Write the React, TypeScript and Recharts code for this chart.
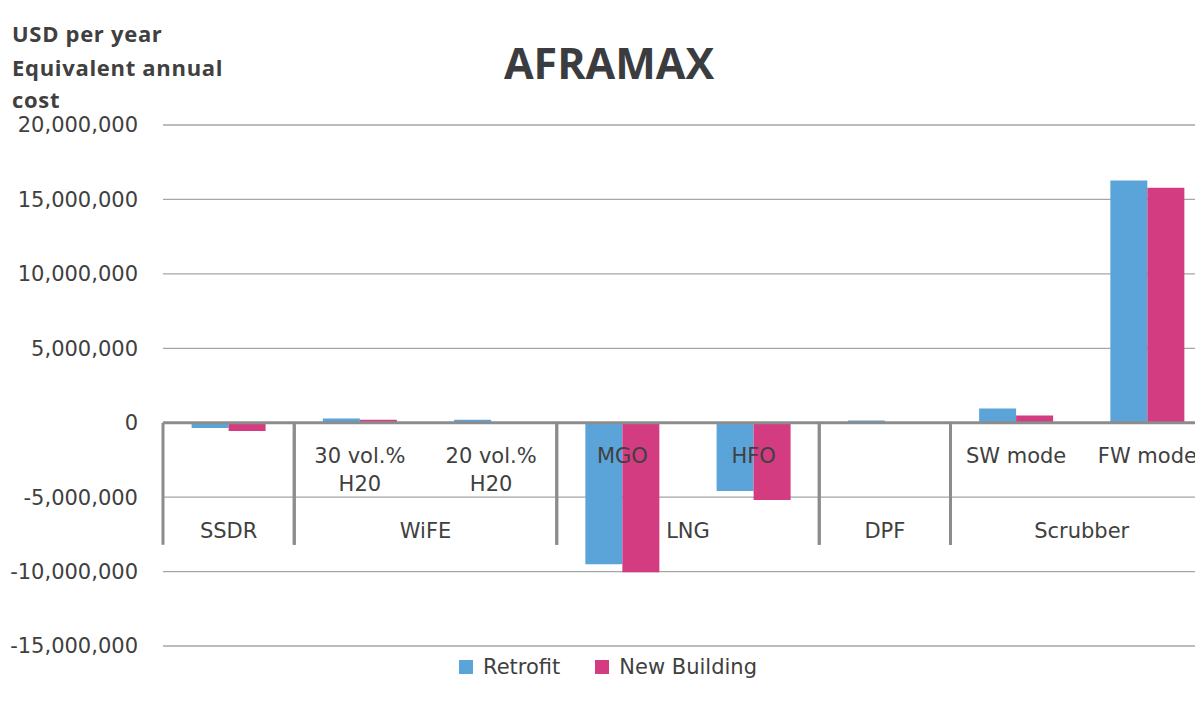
import { BarChart, Bar, XAxis, YAxis, CartesianGrid, ReferenceLine, ReferenceArea, Legend } from 'recharts';

// one entry per bar pair, left to right
const innerLabels = ['', '30 vol.%\nH20', '20 vol.%\nH20', 'MGO', 'HFO', '', 'SW mode', 'FW mode'];
const groupLabels = ['SSDR', 'WiFE', 'WiFE', 'LNG', 'LNG', 'DPF', 'Scrubber', 'Scrubber'];
const retrofit = [-350000, 280000, 200000, -9500000, -4580000, 150000, 950000, 16270000];
const newBuilding = [-550000, 200000, 40000, -10050000, -5200000, 30000, 480000, 15780000];
const yTicks = [-15000000, -10000000, -5000000, 0, 5000000, 10000000, 15000000, 20000000];
const seriesNames = ['Retrofit', 'New Building'];

const BLUE = '#5BA4DA';
const PINK = '#D43C81';
const seriesColors = [BLUE, PINK];
const TEXT = '#404040';
const AXIS = '#8c8c8c';
const FONT = '"DejaVu Sans", sans-serif';

const keys = innerLabels.map((inner, i) => `${groupLabels[i]}|${inner}`);

const chartData = keys.map((key, i) => ({
  key,
  retrofit: retrofit[i],
  newBuilding: newBuilding[i],
}));

// consecutive runs of the same group label
const groups: { name: string; from: string; to: string }[] = [];
groupLabels.forEach((g, i) => {
  const last = groups[groups.length - 1];
  if (last && last.name === g) last.to = keys[i];
  else groups.push({ name: g, from: keys[i], to: keys[i] });
});

function GroupLabel(props: any) {
  const { viewBox, text } = props;
  const { x, y, width, height } = viewBox;
  return (
    <g>
      <line x1={x} x2={x} y1={y} y2={y + height} stroke={AXIS} strokeWidth={3} />
      <line x1={x + width} x2={x + width} y1={y} y2={y + height} stroke={AXIS} strokeWidth={3} />
      <text x={x + width / 2} y={y + height - 7} textAnchor="middle" fontSize={21} fontFamily={FONT} fill={TEXT}>
        {text}
      </text>
    </g>
  );
}

function InnerLabel(props: any) {
  const { viewBox, text } = props;
  const { x, y, width } = viewBox;
  const lines = String(text).split('\n');
  return (
    <text textAnchor="middle" fontSize={21} fontFamily={FONT} fill={TEXT}>
      {lines.map((line, i) => (
        <tspan key={i} x={x + width / 2} y={y + 40 + i * 28}>
          {line}
        </tspan>
      ))}
    </text>
  );
}

function LegendContent() {
  return (
    <div style={{ display: 'flex', alignItems: 'center', height: 24, fontFamily: FONT, fontSize: 21, color: TEXT }}>
      {seriesNames.map((name, i) => (
        <div key={name} style={{ display: 'flex', alignItems: 'center', marginRight: 35 }}>
          <span style={{ display: 'inline-block', width: 14, height: 14, background: seriesColors[i], marginRight: 10 }} />
          <span>{name}</span>
        </div>
      ))}
    </div>
  );
}

export default function App() {
  return (
    <div style={{ margin: -8, width: 1203, height: 702, overflow: 'hidden', position: 'relative', background: '#fff' }}>
      <BarChart
        width={1220}
        height={702}
        data={chartData}
        margin={{ top: 125, right: 7, left: 0, bottom: 56 }}
        barCategoryGap="21.8%"
        barGap={0}
      >
        <CartesianGrid vertical={false} stroke="#a6a6a6" strokeWidth={1.3} />
        <XAxis dataKey="key" hide />
        <YAxis
          domain={[-15000000, 20000000]}
          ticks={yTicks}
          interval={0}
          width={163}
          axisLine={false}
          tickLine={false}
          tickSize={0}
          tickMargin={25}
          tickFormatter={(v: number) => v.toLocaleString('en-US')}
          tick={{ fontSize: 21, fill: TEXT, fontFamily: FONT }}
        />
        <Legend
          verticalAlign="middle"
          align="center"
          layout="horizontal"
          wrapperStyle={{ top: 655, left: 459, width: 400, height: 24 }}
          content={<LegendContent />}
        />
        <Bar dataKey="retrofit" name={seriesNames[0]} fill={BLUE} isAnimationActive={false} />
        <Bar dataKey="newBuilding" name={seriesNames[1]} fill={PINK} isAnimationActive={false} />
        <ReferenceLine y={0} stroke={AXIS} strokeWidth={3} zIndex={2400} />
        {groups.map((g) => (
          <ReferenceArea
            key={g.name}
            x1={g.from}
            x2={g.to}
            y1={0}
            y2={-8200000}
            fill="none"
            fillOpacity={0}
            stroke="none"
            zIndex={2500}
            label={<GroupLabel text={g.name} />}
          />
        ))}
        {keys.map((k, i) =>
          innerLabels[i] ? (
            <ReferenceArea
              key={k}
              x1={k}
              x2={k}
              y1={0}
              y2={-5000000}
              fill="none"
              fillOpacity={0}
              stroke="none"
              zIndex={2500}
              label={<InnerLabel text={innerLabels[i]} />}
            />
          ) : null
        )}
      </BarChart>
      <svg width={1203} height={120} style={{ position: 'absolute', left: 0, top: 0, pointerEvents: 'none' }}>
        <g fontFamily='"Open Sans", sans-serif' fontWeight={700} fill={TEXT}>
          <text x={609} y={79} textAnchor="middle" fontSize={43} fill="#3a3c3f">
            AFRAMAX
          </text>
          <text x={12} y={42} fontSize={22} letterSpacing={0.7}>USD per year</text>
          <text x={12} y={75.5} fontSize={22} letterSpacing={0.7}>Equivalent annual</text>
          <text x={12} y={108} fontSize={22} letterSpacing={0.7}>cost</text>
        </g>
      </svg>
    </div>
  );
}
